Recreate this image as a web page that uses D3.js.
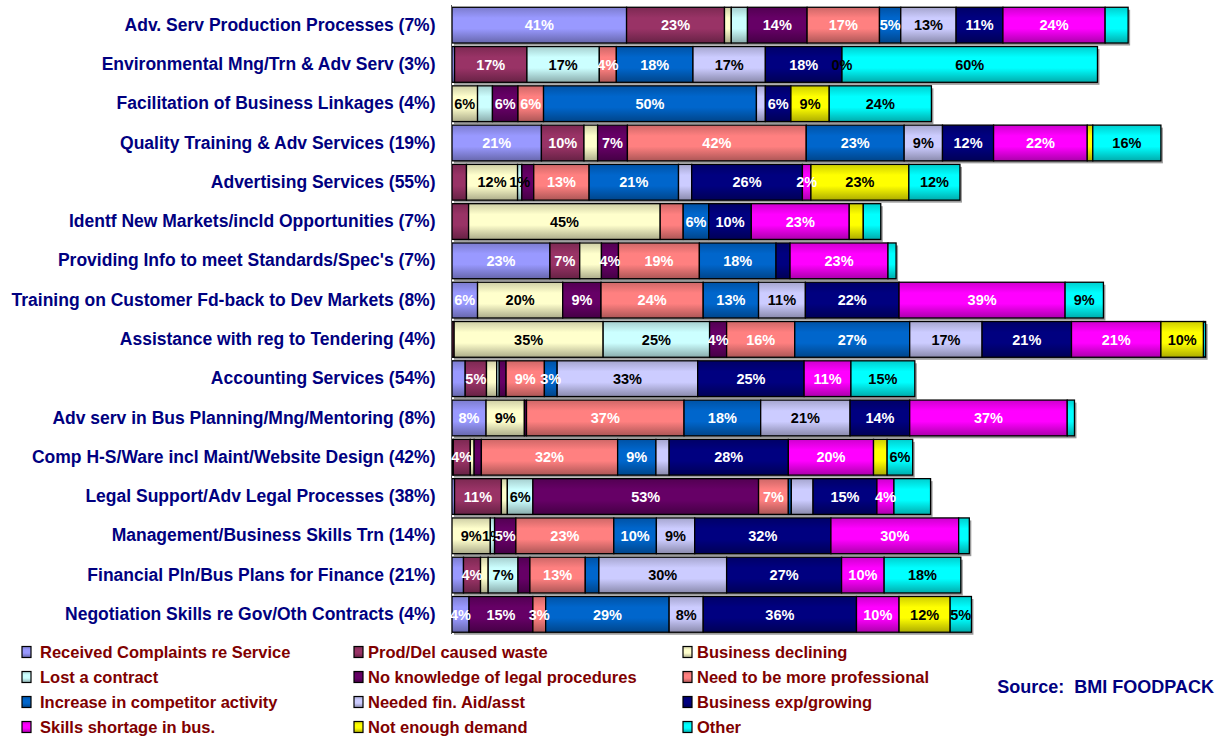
<!DOCTYPE html>
<html>
<head>
<meta charset="utf-8">
<style>
    body { margin: 0; background: #fff; }
    text { font-family: Arial, "Liberation Sans", sans-serif; font-weight: bold; }
</style>
</head>
<body>
<svg id="chart" width="1215" height="740"></svg>
<script src="https://cdn.jsdelivr.net/npm/d3@7/dist/d3.min.js"></script>
<script>
    // rows top -> bottom
    let categories = [
        "Adv. Serv Production Processes (7%)",
        "Environmental Mng/Trn & Adv Serv (3%)",
        "Facilitation of Business Linkages (4%)",
        "Quality Training & Adv Services (19%)",
        "Advertising Services (55%)",
        "Identf New Markets/incld Opportunities (7%)",
        "Providing Info to meet Standards/Spec's (7%)",
        "Training on Customer Fd-back to Dev Markets (8%)",
        "Assistance with reg to Tendering (4%)",
        "Accounting Services (54%)",
        "Adv serv in Bus Planning/Mng/Mentoring (8%)",
        "Comp H-S/Ware incl Maint/Website Design (42%)",
        "Legal Support/Adv Legal Processes (38%)",
        "Management/Business Skills Trn (14%)",
        "Financial Pln/Bus Plans for Finance (21%)",
        "Negotiation Skills re Gov/Oth Contracts (4%)"
    ]

    let seriesNames = [
        "Received Complaints re Service", "Prod/Del caused waste", "Business declining",
        "Lost a contract", "No knowledge of legal procedures", "Need to be more professional",
        "Increase in competitor activity", "Needed fin. Aid/asst", "Business exp/growing",
        "Skills shortage in bus.", "Not enough demand", "Other"
    ]

    // whole numbers carry a data label in the original, decimals are unlabelled slivers
    let received     = [41, 0.6, null, 21, null, null, 23, 6, null, 3.1, 8, 0.3, 0.6, null, 2.7, 4]
    let prodDel      = [23, 17, null, 10, 3.4, 3.9, 7, null, 0.5, 5, null, 4, 11, null, 4, null]
    let declining    = [1.6, null, 6, 3.2, 12, 45, 5.1, 20, 35, 2.4, 9, 0.9, 1.4, 9, 1.8, null]
    let lostContract = [3.8, 17, 3.5, null, 1, null, null, null, 25, 0.6, null, null, 6, 1, 7, null]
    let noKnowledge  = [14, null, 6, 7, 2.8, null, 4, 9, 4, 1.6, 0.5, 1.7, 53, 5, 2.8, 15]
    let professional = [17, 4, 6, 42, 13, 5.4, 19, 24, 16, 9, 37, 32, 7, 23, 13, 3]
    let competitor   = [5, 18, 50, 23, 21, 6, 18, 13, 27, 3, 18, 9, 0.7, 10, 3.2, 29]
    let finAid       = [13, 17, 2.1, 9, 3.1, null, null, 11, 17, 33, 21, 3.1, 5.1, 9, 30, 8]
    let growing      = [11, 18, 6, 12, 26, 10, 3.3, 22, 21, 25, 14, 28, 15, 32, 27, 36]
    let skills       = [24, null, null, 22, 2, 23, 23, 39, 21, 11, 37, 20, 4, 30, 10, 10]
    let demand       = [null, 0, 9, 1.3, 23, 3.3, null, null, 10, null, null, 3.2, null, null, null, 12]
    let other        = [5.4, 60, 24, 16, 12, 4.1, 1.9, 9, 0.5, 15, 1.7, 6, 8.6, 2.5, 18, 5]

    let seriesValues = [received, prodDel, declining, lostContract, noKnowledge, professional,
        competitor, finAid, growing, skills, demand, other]

    let colors = ["#9999FF", "#993366", "#FFFFCC", "#CCFFFF", "#660066", "#FF8080",
        "#0066CC", "#CCCCFF", "#000080", "#FF00FF", "#FFFF00", "#00FFFF"]
    let blackLabel = [2, 3, 7, 10, 11]

    let svg = d3.select("#chart")
    let defs = svg.append("defs")

    colors.forEach((c, i) => {
        let g = defs.append("linearGradient")
            .attr("id", "grad" + i)
            .attr("x1", 0).attr("y1", 0).attr("x2", 0).attr("y2", 1)
        g.append("stop").attr("offset", "0%").attr("stop-color", d3.color(c).darker(0.6))
        g.append("stop").attr("offset", "30%").attr("stop-color", c)
        g.append("stop").attr("offset", "60%").attr("stop-color", c)
        g.append("stop").attr("offset", "100%").attr("stop-color", d3.color(c).darker(1.1))
    })

    let table = categories.map((cat, r) => {
        let row = { cat: cat }
        seriesValues.forEach((vals, s) => { row[s] = vals[r] == null ? 0 : vals[r] })
        return row
    })
    let keys = d3.range(seriesNames.length)
    let stacked = d3.stack().keys(keys)(table)

    let x = d3.scaleLinear().domain([0, 178.5]).range([452, 1212])
    let y = d3.scaleBand().domain(categories).range([5.5, 634]).paddingInner(0.09).paddingOuter(0.045)

    // drop shadows
    svg.append("g")
        .selectAll("rect")
        .data(stacked[stacked.length - 1])
        .enter()
        .append("rect")
        .attr("x", x(0) + 2)
        .attr("y", d => y(d.data.cat) + 2.5)
        .attr("width", d => x(d[1]) - x(0))
        .attr("height", y.bandwidth())
        .attr("fill", "#9a9a9a")

    let layers = svg.append("g")
        .selectAll("g")
        .data(stacked)
        .enter()
        .append("g")
        .attr("fill", d => "url(#grad" + d.key + ")")

    layers.selectAll("rect")
        .data(d => d.map(p => ({ p: p, key: d.key })))
        .enter()
        .filter(d => seriesValues[d.key][categories.indexOf(d.p.data.cat)] != null)
        .append("rect")
        .attr("x", d => x(d.p[0]))
        .attr("y", d => y(d.p.data.cat))
        .attr("width", d => x(d.p[1]) - x(d.p[0]))
        .attr("height", y.bandwidth())
        .attr("stroke", "#000")
        .attr("stroke-width", 1.3)

    // axis
    let yAxis = svg.append("g")
        .attr("transform", "translate(" + (x(0) - 0.5) + ",0)")
        .call(d3.axisLeft(y).tickSize(0).tickPadding(16))
    yAxis.select(".domain").attr("stroke", "#555").attr("d", "M0,5V634")
    yAxis.selectAll("text")
        .attr("fill", "#000080")
        .style("font-size", "17.5px")

    // data labels
    let labels = []
    stacked.forEach(layer => {
        layer.forEach((p, r) => {
            let v = seriesValues[layer.key][r]
            if (v != null && Number.isInteger(v)) labels.push({ p: p, key: layer.key, v: v })
        })
    })
    svg.append("g")
        .selectAll("text")
        .data(labels)
        .enter()
        .append("text")
        .attr("x", d => (x(d.p[0]) + x(d.p[1])) / 2)
        .attr("y", d => y(d.p.data.cat) + y.bandwidth() / 2)
        .attr("dy", "0.36em")
        .attr("text-anchor", "middle")
        .style("font-size", "14.5px")
        .attr("fill", d => blackLabel.includes(d.key) ? "#000" : "#fff")
        .text(d => d.v + "%")

    // legend
    let swatchX = [22, 354, 683]
    let legendTextX = [40, 368, 697]
    let legendY = [652, 677, 702, 727]
    let legend = svg.append("g")
        .selectAll("g")
        .data(seriesNames)
        .enter()
        .append("g")
        .attr("transform", (d, i) => "translate(0," + legendY[Math.floor(i / 3)] + ")")
    legend.append("rect")
        .attr("x", (d, i) => swatchX[i % 3]).attr("y", -5.5)
        .attr("width", 9).attr("height", 11)
        .attr("fill", (d, i) => "url(#grad" + i + ")")
        .attr("stroke", "#000")
        .attr("stroke-width", 1.2)
    legend.append("text")
        .attr("x", (d, i) => legendTextX[i % 3])
        .attr("dy", "0.36em")
        .attr("fill", "#800000")
        .style("font-size", "16.5px")
        .text(d => d)

    svg.append("text")
        .attr("x", 1214)
        .attr("y", 687)
        .attr("dy", "0.36em")
        .attr("text-anchor", "end")
        .attr("fill", "#000080")
        .style("font-size", "18px")
        .style("white-space", "pre")
        .text("Source:  BMI FOODPACK")
</script>
</body>
</html>
